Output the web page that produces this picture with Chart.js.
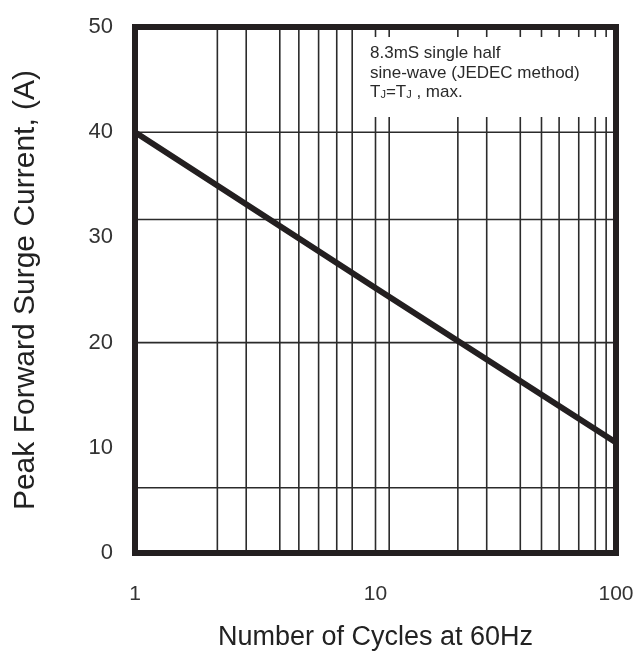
<!DOCTYPE html>
<html>
<head>
<meta charset="utf-8">
<script src="https://cdn.jsdelivr.net/npm/chart.js@4.4.0/dist/chart.umd.min.js"></script>
<style>
html, body { margin: 0; padding: 0; background: #fff; }
#wrap { width: 643px; height: 653px; position: relative; }
</style>
</head>
<body>
<div id="wrap"><canvas id="surgeChart"></canvas></div>
<script>
// 서지 전류 곡선 데이터
const cycles = [1, 10, 100];
const surgeCurrent = [40, 25.2, 10.5];
const xTickValues = [1, 10, 100];
const yTickValues = [0, 10, 20, 30, 40, 50];
// 원본 그림의 격자선 위치 (값 기준)
const gridLinesX = [2.2, 2.9, 4, 4.8, 5.8, 6.9, 8, 10, 11.4, 22, 29, 40, 49, 58, 70, 82, 91];
const gridLinesY = [6.2, 20, 31.7, 40];

const ink = '#231f20';
const fontFamily = '"Liberation Sans", Arial, sans-serif';

const framePlugin = {
    id: 'frame',
    beforeDatasetsDraw(chart) {
        const { ctx, chartArea: a, scales } = chart;
        ctx.save();
        ctx.strokeStyle = '#2b2b2b';
        ctx.lineWidth = 1.6;
        ctx.beginPath();
        gridLinesX.forEach(v => {
            const x = scales.x.getPixelForValue(v);
            ctx.moveTo(x, a.top);
            ctx.lineTo(x, a.bottom);
        });
        gridLinesY.forEach(v => {
            const y = scales.y.getPixelForValue(v);
            ctx.moveTo(a.left, y);
            ctx.lineTo(a.right, y);
        });
        ctx.stroke();

        // 주석 박스
        ctx.fillStyle = '#fff';
        ctx.fillRect(360, 37, a.right - 360, 80);
        ctx.fillStyle = '#2a2a2a';
        ctx.font = '17px ' + fontFamily;
        ctx.textBaseline = 'alphabetic';
        ctx.fillText('8.3mS single half', 370, 58);
        ctx.fillText('sine-wave (JEDEC method)', 370, 78);
        let x = 370;
        const parts = [['T', false], ['J', true], ['=T', false], ['J', true], [' , max.', false]];
        parts.forEach(([t, sub]) => {
            ctx.font = (sub ? '11px ' : '17px ') + fontFamily;
            ctx.fillText(t, x, sub ? 98 : 97);
            x += ctx.measureText(t).width;
        });
        ctx.restore();
    },
    afterDraw(chart) {
        const { ctx, chartArea: a } = chart;
        ctx.save();
        ctx.strokeStyle = ink;
        ctx.lineWidth = 6;
        ctx.strokeRect(a.left, a.top, a.right - a.left, a.bottom - a.top);
        ctx.restore();
    }
};

new Chart(document.getElementById('surgeChart'), {
    type: 'line',
    data: {
        datasets: [{
            data: cycles.map((c, i) => ({ x: c, y: surgeCurrent[i] })),
            borderColor: ink,
            borderWidth: 6,
            pointRadius: 0,
            tension: 0
        }]
    },
    options: {
        responsive: true,
        maintainAspectRatio: false,
        animation: false,
        layout: { padding: { top: 27, right: 27, left: 0, bottom: 0 } },
        plugins: {
            legend: { display: false },
            tooltip: { enabled: false }
        },
        scales: {
            x: {
                type: 'logarithmic',
                min: 1,
                max: 100,
                afterBuildTicks: s => { s.ticks = xTickValues.map(v => ({ value: v })); },
                afterFit: s => { s.height = 100; s.paddingLeft = 0; s.paddingRight = 0; },
                grid: { display: false },
                border: { display: false },
                ticks: {
                    padding: 21,
                    color: '#333',
                    font: { family: fontFamily, size: 21 },
                    callback: v => String(v),
                    maxRotation: 0
                },
                title: {
                    display: true,
                    text: 'Number of Cycles at 60Hz',
                    color: '#222',
                    font: { family: fontFamily, size: 27, lineHeight: 1 },
                    padding: { top: 0, bottom: 2 }
                }
            },
            y: {
                min: 0,
                max: 50,
                afterBuildTicks: s => { s.ticks = yTickValues.map(v => ({ value: v })); },
                afterFit: s => { s.width = 135; s.paddingTop = 0; s.paddingBottom = 0; },
                grid: { display: false },
                border: { display: false },
                ticks: {
                    padding: 14,
                    color: '#333',
                    font: { family: fontFamily, size: 22 }
                },
                title: {
                    display: true,
                    text: 'Peak Forward Surge Current, (A)',
                    color: '#222',
                    font: { family: fontFamily, size: 30, lineHeight: 1 },
                    padding: { top: 11, bottom: 0 }
                }
            }
        }
    },
    plugins: [framePlugin]
});
</script>
</body>
</html>
